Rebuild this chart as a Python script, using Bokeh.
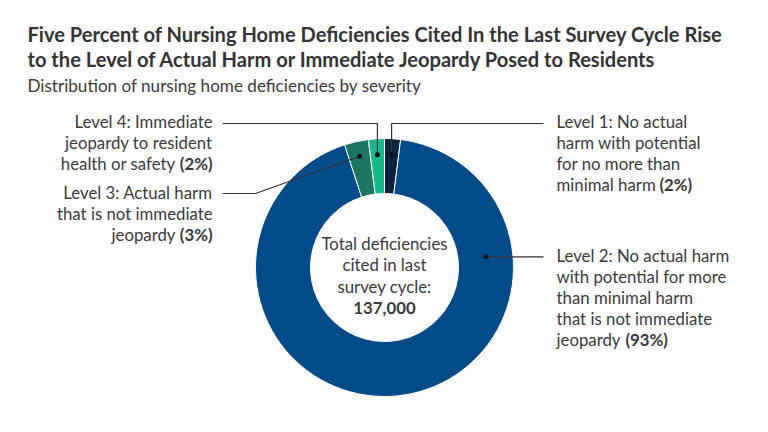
import math
from bokeh.plotting import figure
from bokeh.models import Range1d
from bokeh.core.properties import value
from bokeh.embed import file_html
from bokeh.resources import INLINE

# ---- data ----
levels = ["Level 1", "Level 2", "Level 3", "Level 4"]
shares = [2, 93, 3, 2]  # percent, clockwise from 12 o'clock
colors = ["#0b2341", "#004b88", "#1e7662", "#16b98a"]
total_deficiencies = "137,000"

title_lines = [
    "Five Percent of Nursing Home Deficiencies Cited In the Last Survey Cycle Rise",
    "to the Level of Actual Harm or Immediate Jeopardy Posed to Residents",
]
subtitle = "Distribution of nursing home deficiencies by severity"
center_lines = ["Total deficiencies", "cited in last", "survey cycle:"]

label_lines = {
    "Level 1": ["Level 1: No actual", "harm with potential", "for no more than", "minimal harm"],
    "Level 2": ["Level 2: No actual harm", "with potential for more", "than minimal harm",
                "that is not immediate", "jeopardy"],
    "Level 3": ["Level 3: Actual harm", "that is not immediate", "jeopardy"],
    "Level 4": ["Level 4: Immediate", "jeopardy to resident", "health or safety"],
}

# ---- layout ----
W, H = 768, 432
FONT = "Lato"
TXT = "#3a3a3a"
FS = "16.8px"
CX, CY_S = 384, 267
R_OUT, R_IN = 129, 74


def Y(ys):
    return H - ys


p = figure(width=W, height=H, x_range=Range1d(0, W), y_range=Range1d(0, H),
           output_backend="svg", toolbar_location=None, min_border=0)
p.axis.visible = False
p.xgrid.visible = False
p.ygrid.visible = False
p.outline_line_color = None
p.background_fill_color = "white"
p.border_fill_color = "white"

# ---- donut ----
starts, ends, mids = [], [], []
cum = 0.0
for v in shares:
    a0 = math.pi / 2 - cum / 100 * 2 * math.pi
    a1 = math.pi / 2 - (cum + v) / 100 * 2 * math.pi
    starts.append(a0)
    ends.append(a1)
    mids.append((a0 + a1) / 2)
    cum += v

p.annular_wedge(x=CX, y=Y(CY_S), inner_radius=R_IN, outer_radius=R_OUT,
                start_angle=starts, end_angle=ends, direction="clock",
                fill_color=colors, line_color="white", line_width=1)


def txt(x, y, s, size=FS, bold=False, align="left", color=TXT):
    p.text(x=[x], y=[Y(y)], text=[s], text_font=value(FONT),
           text_font_size=size, text_font_style="bold" if bold else "normal",
           text_align=align, text_baseline="middle", text_color=color)


# ---- title ----
txt(27, 33, title_lines[0], size="20.1px", bold=True, color="#333333")
txt(27, 58, title_lines[1], size="20.1px", bold=True, color="#333333")
txt(27, 85, subtitle, size="17.1px", color=TXT)

# ---- center ----
for i, s in enumerate(center_lines):
    txt(CX, 243 + 21.3 * i, s, align="center")
txt(CX, 307, total_deficiencies, bold=True, align="center")


# ---- leaders ----
def anchor(idx, r, ang=None):
    a = mids[idx] if ang is None else ang
    return CX + r * math.cos(a), CY_S - r * math.sin(a)


lvl_idx = {l: i for i, l in enumerate(levels)}
a1 = anchor(lvl_idx["Level 1"], 113)
a4 = anchor(lvl_idx["Level 4"], 113)
a3 = anchor(lvl_idx["Level 3"], 114)
a2 = anchor(lvl_idx["Level 2"], 102, ang=math.radians(6))

leaders = [
    [(a4[0], a4[1]), (a4[0], 123), (222, 123)],
    [(a1[0], a1[1]), (a1[0], 123), (543, 123)],
    [(a3[0], a3[1]), (255, 193), (222, 193)],
    [(a2[0], a2[1]), (543, a2[1])],
]
for pts in leaders:
    p.line(x=[q[0] for q in pts], y=[Y(q[1]) for q in pts], line_color="#333333", line_width=1.2)
dots = [a1, a2, a3, a4]
p.scatter(x=[d[0] for d in dots], y=[Y(d[1]) for d in dots], size=5,
          fill_color="#111111", line_color=None)

# ---- labels ----
LH = 21
pct = {l: "(%d%%)" % v for l, v in zip(levels, shares)}

# left side (right-aligned)
for lvl, y0 in (("Level 4", 121), ("Level 3", 192)):
    lines = label_lines[lvl]
    for i, s in enumerate(lines[:-1]):
        txt(212, y0 + LH * i, s, align="right")
    yl = y0 + LH * (len(lines) - 1)
    txt(212, yl, pct[lvl], bold=True, align="right")
    txt(175, yl, lines[-1], align="right")

# right side (left-aligned)
bold_x = {"Level 1": 659, "Level 2": 625}
for lvl, y0 in (("Level 1", 121), ("Level 2", 255)):
    lines = label_lines[lvl]
    for i, s in enumerate(lines):
        txt(556, y0 + LH * i, s)
    yl = y0 + LH * (len(lines) - 1)
    txt(bold_x[lvl], yl, pct[lvl], bold=True)

open("out.html", "w").write(file_html(p, INLINE))
